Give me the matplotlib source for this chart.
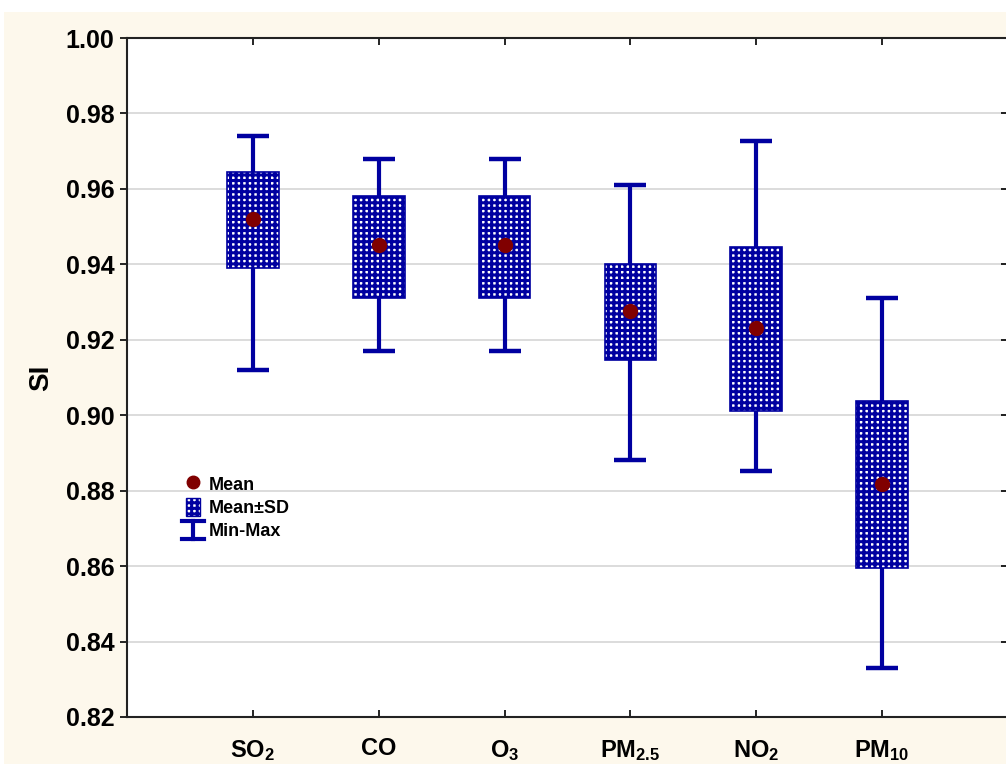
import numpy as np
import matplotlib
matplotlib.use("Agg")
import matplotlib.pyplot as plt
from matplotlib.patches import Patch, Rectangle
from matplotlib.lines import Line2D
from matplotlib.legend_handler import HandlerBase

# ---- data ----
categories = [r"$\mathbf{SO_2}$", r"$\mathbf{CO}$", r"$\mathbf{O_3}$",
              r"$\mathbf{PM_{2.5}}$", r"$\mathbf{NO_2}$", r"$\mathbf{PM_{10}}$"]
means = [0.952, 0.945, 0.945, 0.9276, 0.923, 0.8818]
sd_low = [0.939, 0.931, 0.931, 0.9146, 0.901, 0.8595]
sd_high = [0.9645, 0.958, 0.958, 0.940, 0.9446, 0.9038]
mins = [0.912, 0.917, 0.917, 0.888, 0.8852, 0.833]
maxs = [0.974, 0.968, 0.968, 0.961, 0.9727, 0.931]
yticks = [0.82, 0.84, 0.86, 0.88, 0.90, 0.92, 0.94, 0.96, 0.98, 1.00]

NAVY = "#0000a0"
RED = "#800000"
CREAM = "#fdf8ec"

plt.rcParams["font.family"] = ["Liberation Sans", "DejaVu Sans"]
plt.rcParams["mathtext.fontset"] = "custom"
plt.rcParams["mathtext.bf"] = "Liberation Sans:bold"
plt.rcParams["mathtext.rm"] = "Liberation Sans:bold"
plt.rcParams["hatch.linewidth"] = 2.2

fig = plt.figure(figsize=(10.06, 7.64), dpi=100, facecolor="white")
fig.patches.append(Rectangle((4 / 1006, 0), 1, (764 - 12) / 764,
                             transform=fig.transFigure, facecolor=CREAM,
                             edgecolor="none", zorder=-10))

ax = fig.add_axes([127 / 1006, 47 / 764, (1008 - 127) / 1006, (717 - 38) / 764])
ax.set_facecolor("white")

x = np.arange(1, len(categories) + 1)
means_a = np.array(means)
lo = np.array(sd_low)
hi = np.array(sd_high)

# whiskers
ax.errorbar(x, means_a, yerr=[means_a - np.array(mins), np.array(maxs) - means_a],
            fmt="none", ecolor=NAVY, elinewidth=3, capsize=11.5, capthick=3.2,
            zorder=3)
# boxes
ax.bar(x, hi - lo, bottom=lo, width=0.41, facecolor="white", edgecolor=NAVY,
       hatch="+++", linewidth=1.2, zorder=4)
# means
ax.plot(x, means_a, "o", color=RED, markersize=10, zorder=5)

ax.set_xlim(0, 7)
ax.set_ylim(0.82, 1.00)
ax.set_yticks(yticks)
ax.set_yticklabels([f"{v:.2f}" for v in yticks], fontsize=18, fontweight="bold")
ax.set_xticks(x)
ax.set_xticklabels(categories, fontsize=17)
ax.grid(axis="y", color="#d9d9d9", linewidth=1.3, zorder=0)
ax.set_axisbelow(True)

ax.tick_params(axis="y", which="both", direction="out", length=5, width=1.2,
               pad=4, right=True, labelright=False)
for t in ax.yaxis.get_major_ticks():
    t.tick2line.set_marker(matplotlib.markers.TICKLEFT)
    t.tick2line.set_markersize(5)
ax.tick_params(axis="x", direction="in", length=5, width=1.2, pad=15, top=True)

for s in ax.spines.values():
    s.set_linewidth(1.5)
    s.set_color("#222222")
ax.spines["right"].set_visible(False)

ax.set_ylabel("SI", fontsize=20, fontweight="bold")
ax.yaxis.set_label_coords(-0.083, 0.5)


class MinMaxHandler(HandlerBase):
    def create_artists(self, legend, orig_handle, xdescent, ydescent,
                       width, height, fontsize, trans):
        cx = width / 2 - xdescent
        y0 = -ydescent
        y1 = height - ydescent
        w = 8
        a1 = Line2D([cx, cx], [y0, y1], color=NAVY, lw=3, transform=trans)
        a2 = Line2D([cx - w, cx + w], [y0, y0], color=NAVY, lw=3, transform=trans)
        a3 = Line2D([cx - w, cx + w], [y1, y1], color=NAVY, lw=3, transform=trans)
        return [a1, a2, a3]


mean_h = Line2D([], [], marker="o", color=RED, linestyle="none", markersize=9)
sd_h = Patch(facecolor="white", edgecolor=NAVY, hatch="+++", linewidth=1)
mm_h = object()
leg = ax.legend([mean_h, sd_h, mm_h], ["Mean", "Mean\u00b1SD", "Min-Max"],
                handler_map={object: MinMaxHandler()},
                loc="center left", bbox_to_anchor=(0.067, 0.309),
                frameon=False, borderpad=0, borderaxespad=0,
                handlelength=0.8, handleheight=1.2, handletextpad=0.45,
                labelspacing=0.22, prop={"weight": "bold", "size": 13})

fig.savefig("out.png", dpi=100, facecolor=fig.get_facecolor())
